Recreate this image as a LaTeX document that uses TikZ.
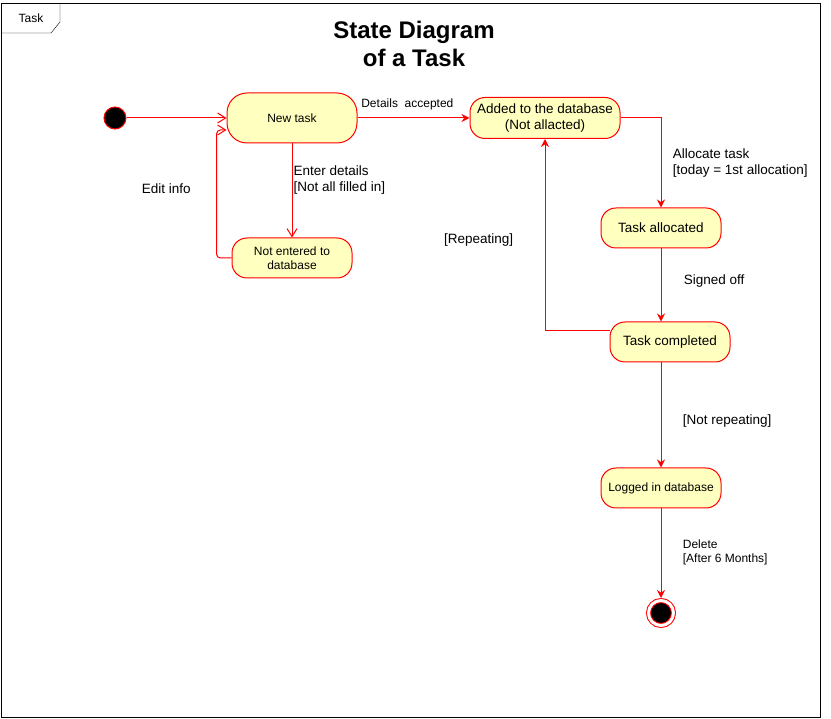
\documentclass[tikz,border=0pt]{standalone}
\usepackage{fontspec}
\setmainfont{Liberation Sans}
\usetikzlibrary{arrows.meta}
\definecolor{statefill}{HTML}{FFFFC0}
\definecolor{statered}{HTML}{FF0000}
\begin{document}
\begin{tikzpicture}[
        x=1pt, y=-1pt,
        state/.style={draw=statered, line width=1pt, fill=statefill, rounded corners=15pt, minimum width=120pt, minimum height=40pt, inner sep=2pt, align=center, font=\fontsize{13.5}{16}\selectfont},
        small/.style={font=\fontsize{12}{14}\selectfont},
        initstate/.style={circle, draw=statered, line width=1pt, fill=black, minimum size=22pt, inner sep=0pt},
        endstate/.style={circle, draw=statered, line width=1pt, fill=black, minimum size=25pt, inner sep=0pt, double=white, double distance=3pt, outer sep=2.5pt},
        trans/.style={draw=statered, line width=1pt, -{Stealth[length=8pt, width=8pt]}},
        opentrans/.style={draw=statered, line width=1pt, -{Straight Barb[length=8pt, width=10pt]}},
        lbl/.style={align=left, font=\fontsize{13.5}{16}\selectfont}
    ]
        \useasboundingbox (0,0) rectangle (831,719);
        % frame with its tab
        \draw (1,3) rectangle (820,717);
        \draw (1,33) -- (51,33) -- (60,22) -- (60,3);
        \node[small] (frametab) at (31,18) {Task};
        \node[font=\bfseries\fontsize{24}{28}\selectfont, align=center] (title) at (414,44) {State Diagram\\of a Task};

        % states
        \node[initstate] (start) at (115,118) {};
        \node[state, small, minimum width=130pt, minimum height=50pt, rounded corners=20pt] (newtask) at (292,118) {New task};
        \node[state, small, font=\fontsize{12}{14}\selectfont] (notin) at (292,258) {Not entered to\\database};
        \node[state, minimum width=150pt, minimum height=41pt] (added) at (545,118) {Added to the database\\(Not allacted)};
        \node[state] (alloc) at (661,228) {Task allocated};
        \node[state] (done) at (670,342) {Task completed};
        \node[state, small] (logged) at (661,488) {Logged in database};
        \node[endstate] (end) at (661,613) {};

        % transitions
        \draw[opentrans] (start) -- (newtask);
        \draw[trans] (newtask) -- node[pos=0, anchor=south west, yshift=4pt, small] (lblaccepted) {Details\ \ accepted} (added);
        \draw[opentrans] (newtask) -- node[pos=0.39, anchor=west, inner sep=1pt, lbl] (lblenter) {Enter details\\{}[Not all filled in]} (notin);
        \draw[opentrans, rounded corners=4pt] (notin.west) -- ++(-15,0) |- node[pos=0.27, left=22pt, lbl] (lbledit) {Edit info} ([yshift=-12pt]newtask.west);
        \draw[trans] (added.east) -| node[pos=0.75, right=8pt, lbl] (lblallocate) {Allocate task\\{}[today = 1st allocation]} (alloc.north);
        \draw[trans] (alloc.south) -- node[pos=0.45, right=19pt, lbl] (lblsigned) {Signed off} (alloc.south |- done.north);
        \draw[trans] ([yshift=11pt]done.west) -| node[pos=0.736, left=28pt, lbl] (lblrepeat) {[Repeating]} (added.south);
        \draw[trans] (done.south -| logged) -- node[pos=0.56, right=18pt, lbl] (lblnotrepeat) {[Not repeating]} (logged.north);
        \draw[trans] (logged) -- node[pos=0.49, right=18pt, align=left, font=\fontsize{12}{13.5}\selectfont] (lbldelete) {Delete\\{}[After 6 Months]} (end);
    \end{tikzpicture}
\end{document}
